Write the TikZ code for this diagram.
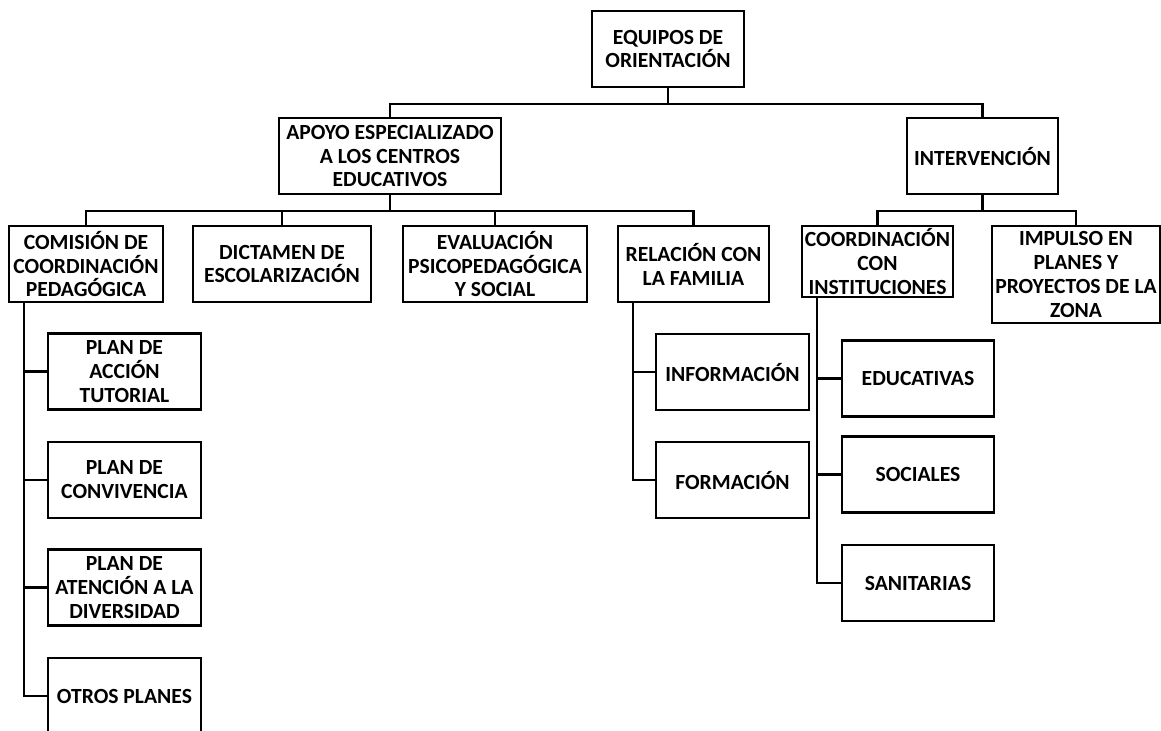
\documentclass[tikz,border=0pt]{standalone}
\usepackage{fontspec}
\setmainfont{Carlito}
\usetikzlibrary{positioning}

\begin{document}
\begin{tikzpicture}[x=0.02cm,y=-0.02cm,
    box/.style={draw=black,line width=1.4pt,fill=white,
                minimum height=1.52cm,minimum width=3.04cm,inner sep=1pt,
                align=center,font=\bfseries\fontsize{12.3}{13.6}\selectfont},
    link/.style={draw=black,line width=1.4pt}]

    \useasboundingbox (0,0) rectangle (1161,731);
    \clip (0,0) rectangle (1161,731);

    % top and first level
    \node[box] (equipos) at (668,49) {EQUIPOS DE\\ORIENTACIÓN};
    \node[box,minimum width=4.44cm] (apoyo) at (390,156)
        {APOYO ESPECIALIZADO\\A LOS CENTROS\\EDUCATIVOS};
    \node[box,minimum width=3.02cm] (interv) at (982.5,156) {INTERVENCIÓN};

    % second level
    \node[box,minimum width=3.08cm] (comision) at (86,264)
        {COMISIÓN DE\\COORDINACIÓN\\PEDAGÓGICA};
    \node[box,minimum width=3.56cm] (dictamen) at (282,264)
        {DICTAMEN DE\\ESCOLARIZACIÓN};
    \node[box,minimum width=3.68cm] (evaluacion) at (495,264)
        {EVALUACIÓN\\PSICOPEDAGÓGICA\\Y SOCIAL};
    \node[box,minimum width=3.02cm] (relacion) at (693.5,264)
        {RELACIÓN CON\\LA FAMILIA};
    \node[box,minimum width=3.02cm,minimum height=1.42cm] (coordinst) at (877.5,261.5)
        {COORDINACIÓN\\CON\\INSTITUCIONES};
    \node[box,minimum width=3.36cm,minimum height=1.94cm] (impulso) at (1076,274.5)
        {IMPULSO EN\\PLANES Y\\PROYECTOS DE LA\\ZONA};

    % plans
    \node[box,minimum width=3.06cm] (accion) at (124.5,371.5) {PLAN DE\\ACCIÓN\\TUTORIAL};
    \node[box,minimum width=3.06cm] (convivencia) at (124.5,480) {PLAN DE\\CONVIVENCIA};
    \node[box,minimum width=3.06cm] (diversidad) at (124.5,587.5)
        {PLAN DE\\ATENCIÓN A LA\\DIVERSIDAD};
    \node[box,minimum width=3.06cm] (otros) at (124.5,696) {OTROS PLANES};

    % family
    \node[box,minimum width=3.06cm] (informacion) at (732.5,372) {INFORMACIÓN};
    \node[box,minimum width=3.06cm] (formacion) at (732.5,480) {FORMACIÓN};

    % institutions
    \node[box] (educativas) at (918,378.5) {EDUCATIVAS};
    \node[box] (sociales) at (918,474.5) {SOCIALES};
    \node[box] (sanitarias) at (918,583) {SANITARIAS};

    % tree links
    \foreach \b in {apoyo,interv}{
      \draw[link] (equipos.south) -- ++(0,16) -| (\b.north);
    }
    \foreach \b in {comision,dictamen,evaluacion,relacion}{
      \draw[link] (apoyo.south) -- ++(0,16) -| (\b.north);
    }
    \foreach \b in {coordinst,impulso}{
      \draw[link] (interv.south) -- ++(0,16) -| (\b.north);
    }

    % side branches
    \foreach \b in {accion,convivencia,diversidad,otros}{
      \draw[link] (comision.south west) ++(16,0) |- (\b.west);
    }
    \foreach \b in {informacion,formacion}{
      \draw[link] (relacion.south west) ++(16,0) |- (\b.west);
    }
    \foreach \b in {educativas,sociales,sanitarias}{
      \draw[link] (coordinst.south west) ++(16,0) |- (\b.west);
    }
\end{tikzpicture}
\end{document}
